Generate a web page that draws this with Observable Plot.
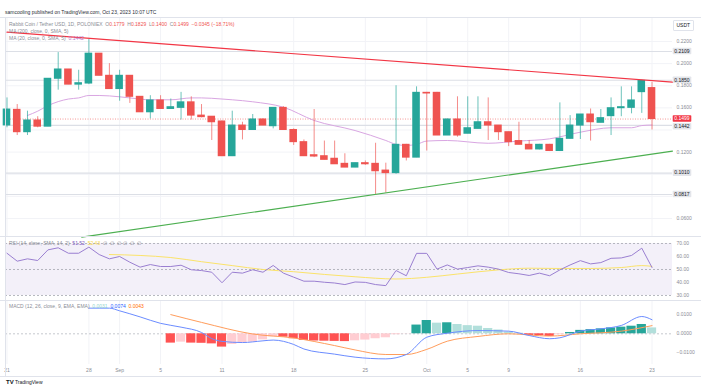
<!DOCTYPE html>
<html><head><meta charset="utf-8">
<script src="https://cdn.jsdelivr.net/npm/d3@7"></script>
<script src="https://cdn.jsdelivr.net/npm/@observablehq/plot@0.6"></script>
<style>
html,body{margin:0;padding:0;background:#fff;}
#wrap{position:relative;width:701px;height:388px;overflow:hidden;font-family:"Liberation Sans",Arial,sans-serif;}
#wrap svg{position:absolute;left:0;}
.t{position:absolute;font-size:5px;white-space:nowrap;line-height:5px;color:#8a8d96;}
.ln{position:absolute;background:#e0e3eb;}
</style></head><body><div id="wrap"></div>
<script>
// ---------- data (daily candles, Aug 21 – Oct 23, 2023) ----------
const open  = [0.1441,0.1582,0.1380,0.1486,0.1430,0.1863,0.1947,0.1810,0.1820,0.2090,0.1890,0.1770,0.1890,0.1700,0.1560,0.1667,0.1590,0.1600,0.1650,0.1530,0.1520,0.1477,0.1163,0.1440,0.1400,0.1495,0.1434,0.1600,0.1400,0.1290,0.1172,0.1163,0.1140,0.1094,0.1060,0.1100,0.1094,0.1033,0.1010,0.1266,0.1150,0.1736,0.1736,0.1350,0.1495,0.1366,0.1410,0.1470,0.1440,0.1380,0.1300,0.1266,0.1224,0.1266,0.1210,0.1320,0.1440,0.1540,0.1465,0.1525,0.1597,0.1600,0.1742,0.1779];
const high  = [0.1690,0.1630,0.1570,0.1520,0.1863,0.2100,0.1947,0.1940,0.2220,0.2090,0.2000,0.1940,0.1890,0.1700,0.1710,0.1710,0.1680,0.1740,0.1700,0.1630,0.1520,0.1480,0.1570,0.1470,0.1540,0.1500,0.1600,0.1610,0.1410,0.1310,0.1585,0.1300,0.1300,0.1185,0.1100,0.1120,0.1280,0.1100,0.1800,0.1270,0.1790,0.1740,0.1740,0.1500,0.1700,0.1700,0.1700,0.1690,0.1440,0.1380,0.1470,0.1305,0.1270,0.1270,0.1645,0.1530,0.1540,0.1590,0.1585,0.1690,0.1790,0.1790,0.1850,0.1829];
const low   = [0.1420,0.1350,0.1350,0.1420,0.1430,0.1760,0.1810,0.1760,0.1810,0.1890,0.1770,0.1660,0.1640,0.1560,0.1500,0.1590,0.1590,0.1490,0.1490,0.1510,0.1305,0.1160,0.1160,0.1310,0.1400,0.1440,0.1410,0.1400,0.1260,0.1160,0.1150,0.1130,0.1090,0.1060,0.1060,0.1080,0.0817,0.0830,0.1000,0.1120,0.1150,0.1210,0.1350,0.1350,0.1335,0.1366,0.1410,0.1305,0.1305,0.1250,0.1266,0.1224,0.1220,0.1205,0.1205,0.1320,0.1314,0.1300,0.1465,0.1350,0.1520,0.1546,0.1550,0.1400];
const close = [0.1585,0.1380,0.1486,0.1430,0.1863,0.1947,0.1810,0.1823,0.2090,0.1890,0.1770,0.1890,0.1700,0.1560,0.1667,0.1590,0.1606,0.1650,0.1530,0.1516,0.1470,0.1163,0.1440,0.1400,0.1495,0.1440,0.1600,0.1400,0.1290,0.1163,0.1160,0.1130,0.1090,0.1060,0.1100,0.1090,0.1027,0.1010,0.1266,0.1150,0.1736,0.1730,0.1350,0.1495,0.1350,0.1416,0.1470,0.1440,0.1380,0.1290,0.1266,0.1224,0.1266,0.1210,0.1320,0.1440,0.1540,0.1470,0.1507,0.1597,0.1606,0.1667,0.1844,0.1499];

// MA(20) read at candle indices
const ma20Idx = [2,3,4,6,7,8,9,11,12,14,16,18,19,21,22,24,27,30,34,37,38,39,40,41,43,47,50,53,56,59,61,62,63];
const ma20Val = [0.1531,0.1570,0.1620,0.1680,0.1690,0.1712,0.1712,0.1700,0.1690,0.1673,0.1673,0.1690,0.1690,0.1680,0.1673,0.1655,0.1606,0.1486,0.1395,0.1305,0.1270,0.1260,0.1270,0.1300,0.1305,0.1280,0.1300,0.1320,0.1380,0.1420,0.1420,0.1440,0.1445];

// drawn lines
const hLevels = [0.2109, 0.1850, 0.1442, 0.1010, 0.0817];
const redTrendIdx = [0, 65], redTrendVal = [0.2284, 0.1833];
const greenTrendIdx = [7.3, 65], greenTrendVal = [0.0431, 0.1209];

// RSI(14)
const rsi = [62.5,56.4,58.2,56.9,65.1,66.7,62.5,62.5,67.2,61.5,58.2,60.0,55.6,51.8,53.8,52.3,52.3,53.3,49.8,49.2,47.9,39.8,47.9,47.2,49.8,47.9,53.1,47.2,44.1,41.0,41.0,40.2,39.6,38.4,40.4,40.1,38.4,37.6,49.2,45.2,62.4,62.4,50.3,53.5,50.3,51.5,52.8,51.8,50.3,47.7,46.7,45.4,47.2,45.2,49.7,53.5,56.8,54.3,55.3,58.6,58.9,60.8,66.4,51.5];
const rsiMaIdx = [10,13,16,19,22,25,28,31,34,38,41,44,48,51,54,57,60,62,63];
const rsiMaVal = [61.5,60.8,59.2,56.0,53.0,50.0,48.3,46.2,44.4,42.7,44.0,46.5,49.7,51.0,50.8,50.8,51.5,53.0,52.4];

// MACD(12,26,9)
const macdIdx = [8,10,11,13,15,17,19,20,21,23,25,26,28,29,32,34,37,39,41,43,46,49,51,53,54,56,58,60,62,63];
const macdVal = [0.0135,0.0135,0.0121,0.0089,0.0055,0.0035,0.0007,-0.0025,-0.0040,-0.0046,-0.0037,-0.0033,-0.0056,-0.0080,-0.0107,-0.0123,-0.0132,-0.0109,-0.0018,0.0003,0.0017,0.0014,-0.0009,-0.0026,-0.0021,0.0014,0.0026,0.0044,0.0091,0.0074];
const signalIdx = [16,19,24,28,32,34,37,39,41,43,46,49,53,56,60,63];
const signalVal = [0.0101,0.0060,-0.0001,-0.0022,-0.0062,-0.0085,-0.0109,-0.0109,-0.0082,-0.0039,-0.0014,0.0000,-0.0012,0.0000,0.0014,0.0043];
const histStart = 16;
const histVal = [-0.0049,-0.0044,-0.0049,-0.0050,-0.0053,-0.0070,-0.0056,-0.0049,-0.0044,-0.0032,-0.0016,-0.0018,-0.0026,-0.0035,-0.0038,-0.0039,-0.0040,-0.0041,-0.0037,-0.0033,-0.0026,-0.0021,-0.0005,-0.0001,0.0046,0.0070,0.0056,0.0058,0.0049,0.0043,0.0040,0.0028,0.0020,0.0009,0.0003,-0.0009,-0.0010,-0.0014,-0.0005,0.0007,0.0018,0.0022,0.0026,0.0031,0.0035,0.0040,0.0049,0.0031];

// axes
const dateTickIdx = [0,8,11,15,21,28,35,41,45,49,56,63];
const dateTickLabel = ["21","28","Sep","5","11","18","25","Oct","5","9","16","23"];
const priceTicks = [0.22,0.20,0.18,0.16,0.12,0.06];
const priceGrid = [0.22,0.20,0.18,0.16,0.14,0.12,0.10,0.08,0.06];
const rsiTicks = [70,60,50,40,30];
const macdTicks = [0.01,0,-0.01];

// ---------- build ----------
const FONT = '"Liberation Sans", Arial, sans-serif';
const UP = "#26a69a", DOWN = "#ef5350", AX = "#8a8d96";
const xDomain = [-0.146, 65.0];
const candles = open.map((o,i)=>({i,o,h:high[i],l:low[i],c:close[i]}));
const ma20 = ma20Idx.map((i,k)=>({i,v:ma20Val[k]}));
const redT = redTrendIdx.map((i,k)=>({i,v:redTrendVal[k]}));
const greenT = greenTrendIdx.map((i,k)=>({i,v:greenTrendVal[k]}));
const rsiD = rsi.map((v,i)=>({i,v}));
const rsiMa = rsiMaIdx.map((i,k)=>({i,v:rsiMaVal[k]}));
const macdD = macdIdx.map((i,k)=>({i,v:macdVal[k]}));
const sigD = signalIdx.map((i,k)=>({i,v:signalVal[k]}));
const hist = histVal.map((v,k)=>{
  const prev = k>0 ? histVal[k-1] : 0;
  const col = v>=0 ? (v>=prev ? "#26a69a" : "#b2dfdb") : (v<prev ? "#ff5252" : "#ffcdd2");
  return {i: histStart+k, v, col};
});
const dateTicks = dateTickIdx.map((i,k)=>({i,label:dateTickLabel[k]}));
const f4 = d3.format(".4f"), f2 = d3.format(".2f");

const base = (h, mt, mb, ydom) => ({
  width: 701, height: h, marginLeft: 5, marginRight: 29, marginTop: mt, marginBottom: mb,
  x: {domain: xDomain, axis: null},
  y: {domain: ydom, axis: null},
  style: {background: "transparent", fontFamily: FONT, fontSize: "5px", overflow: "visible"}
});

// axis label boxes (drawn through the y scale)
const boxMark = (items) => (index, scales, values, dim) => {
  const g = d3.create("svg:g");
  const xr = dim.width - dim.marginRight;
  for (const it of items) {
    const y = scales.y(it.v) + (it.dy || 0);
    g.append("rect").attr("x", xr + 0.7).attr("y", y - 3.3).attr("width", 18.6).attr("height", 6.6)
      .attr("rx", 0.8).attr("fill", it.bg);
    g.append("text").attr("x", xr + 10).attr("y", y).attr("dy", "0.36em").attr("text-anchor", "middle")
      .attr("font-size", 5).attr("fill", it.fg).attr("font-family", FONT).text(f4(it.v));
  }
  return g.node();
};

const price = Plot.plot({
  ...base(236, 18, 0, [0.0437, 0.2408]),
  marks: [
    Plot.ruleY(priceGrid, {stroke: "#f2f3f7"}),
    Plot.ruleX(dateTickIdx, {stroke: "#f2f3f7"}),
    Plot.ruleY(hLevels, {stroke: "#dcdfe6", strokeWidth: 1.1}),
    Plot.ruleY([close[close.length-1]], {stroke: DOWN, strokeDasharray: "1,1.5", strokeOpacity: 0.6}),
    Plot.line(ma20, {x: "i", y: "v", stroke: "#d9a6e2", strokeWidth: 1, curve: "monotone-x"}),
    Plot.ruleX(candles, {x: "i", y1: "l", y2: "h", stroke: d => d.c >= d.o ? UP : DOWN, strokeWidth: 0.9, strokeOpacity: 0.75}),
    Plot.rect(candles, {x1: d => d.i - 0.37, x2: d => d.i + 0.37, y1: d => Math.min(d.o, d.c), y2: d => Math.max(d.o, d.c),
      fill: d => d.c >= d.o ? UP : DOWN, insetTop: -0.5, insetBottom: -0.5}),
    Plot.line(redT, {x: "i", y: "v", stroke: "#f23645", strokeWidth: 1.2}),
    Plot.line(greenT, {x: "i", y: "v", stroke: "#4caf50", strokeWidth: 1.1}),
    Plot.text(priceTicks, {y: d => d, text: d => f4(d), frameAnchor: "right", dx: 4, textAnchor: "start", fill: AX}),
    boxMark([
      {v: 0.2109, bg: "#e3e5ea", fg: "#131722"},
      {v: 0.1850, bg: "#e3e5ea", fg: "#131722"},
      {v: 0.1499, bg: "#f23645", fg: "#ffffff"},
      {v: 0.1442, bg: "#e3e5ea", fg: "#131722", dy: 1.4},
      {v: 0.1010, bg: "#e3e5ea", fg: "#131722"},
      {v: 0.0817, bg: "#e3e5ea", fg: "#131722"}
    ])
  ]
});

const rsiPlot = Plot.plot({
  ...base(64, 0, 0, [26.15, 75.38]),
  marks: [
    Plot.rect([0], {x1: xDomain[0], x2: xDomain[1], y1: 30, y2: 70, fill: "#7e57c2", fillOpacity: 0.09}),
    Plot.ruleY([70, 50, 30], {stroke: "#a3a6af", strokeDasharray: "2,2", strokeWidth: 0.8}),
    Plot.line(rsiMa, {x: "i", y: "v", stroke: "#fbe36a", strokeWidth: 1, curve: "monotone-x"}),
    Plot.line(rsiD, {x: "i", y: "v", stroke: "#9a7fd1", strokeWidth: 1}),
    Plot.text(rsiTicks, {y: d => d, text: d => f2(d), frameAnchor: "right", dx: 4, textAnchor: "start", fill: AX})
  ]
});

const macdPlot = Plot.plot({
  ...base(88, 0, 24, [-0.01616, 0.01753]),
  marks: [
    Plot.ruleX(dateTickIdx, {stroke: "#f2f3f7"}),
    Plot.ruleY([0], {stroke: "#b7bac2", strokeDasharray: "2,2", strokeWidth: 0.8}),
    Plot.rect(hist, {x1: d => d.i - 0.45, x2: d => d.i + 0.45, y1: 0, y2: "v", fill: "col"}),
    Plot.line(sigD, {x: "i", y: "v", stroke: "#ff9d5c", strokeWidth: 1, curve: "monotone-x"}),
    Plot.line(macdD, {x: "i", y: "v", stroke: "#6b8cff", strokeWidth: 1, curve: "monotone-x"}),
    Plot.text(macdTicks, {y: d => d, text: d => f4(d), frameAnchor: "right", dx: 4, textAnchor: "start", fill: AX}),
    Plot.text(dateTicks, {x: "i", text: "label", frameAnchor: "bottom", dy: 7, fill: AX})
  ]
});

const wrap = document.getElementById("wrap");
price.style.top = "0px"; rsiPlot.style.top = "236px"; macdPlot.style.top = "300px";
wrap.append(price, rsiPlot, macdPlot);

// frame lines
const line = (x, y, w, h) => { const d = document.createElement("div"); d.className = "ln";
  Object.assign(d.style, {left: x+"px", top: y+"px", width: w+"px", height: h+"px"}); wrap.append(d); };
line(0, 17, 701, 1); line(0, 236, 701, 1); line(0, 300, 701, 1); line(0, 376, 701, 1); line(5, 17, 1, 359);

// texts
const txt = (x, yc, html, extra) => { const d = document.createElement("div"); d.className = "t";
  d.style.left = x + "px"; d.style.top = (yc - 2.5) + "px"; d.innerHTML = html;
  if (extra) Object.assign(d.style, extra); wrap.append(d); return d; };
txt(5, 12.5, "samcooling published on TradingView.com, Oct 23, 2023 10:07 UTC", {color: "#2a2e39"});
const R = s => `<span style="color:${DOWN}">${s}</span>`;
txt(9, 24, `Rabbit Coin / Tether USD, 1D, POLONIEX&nbsp; O${R(f4(open[63]))}&nbsp; H${R(f4(high[63]))}&nbsp; L${R(f4(low[63]))}&nbsp; C${R(f4(close[63]))}&nbsp; ${R("−0.0345 (−18.71%)")}`);
txt(9, 31, "MA (200, close, 0, SMA, 5)");
txt(9, 38, `MA (20, close, 0, SMA, 5)&nbsp; <span style="color:#b678c8">${f4(ma20Val[ma20Val.length-1]-0.0003)}</span>`);
txt(9, 243.6, `RSI (14, close, SMA, 14, 2)&nbsp; <span style="color:#7e57c2">${f2(51.52)}</span>&nbsp; <span style="color:#f5d63d">${f2(52.43)}</span>&nbsp; ∅&nbsp; ∅&nbsp; ∅&nbsp; ∅&nbsp; ∅&nbsp; ∅`);
txt(9, 306.7, `MACD (12, 26, close, 9, EMA, EMA)&nbsp; <span style="color:#8fd3cb">0.0031</span>&nbsp; <span style="color:#2962ff">0.0074</span>&nbsp; <span style="color:#ff6d00">0.0043</span>`);
// USDT box
const u = txt(672.5, 25, "USDT", {color: "#131722", border: "1px solid #e0e3eb", borderRadius: "1px", padding: "2px 3px", top: "20px", background: "#fff"});
// logo
txt(6, 382.5, `<b style="color:#131722;font-size:6px">TV</b> <span style="color:#131722">TradingView</span>`);
</script></body></html>
